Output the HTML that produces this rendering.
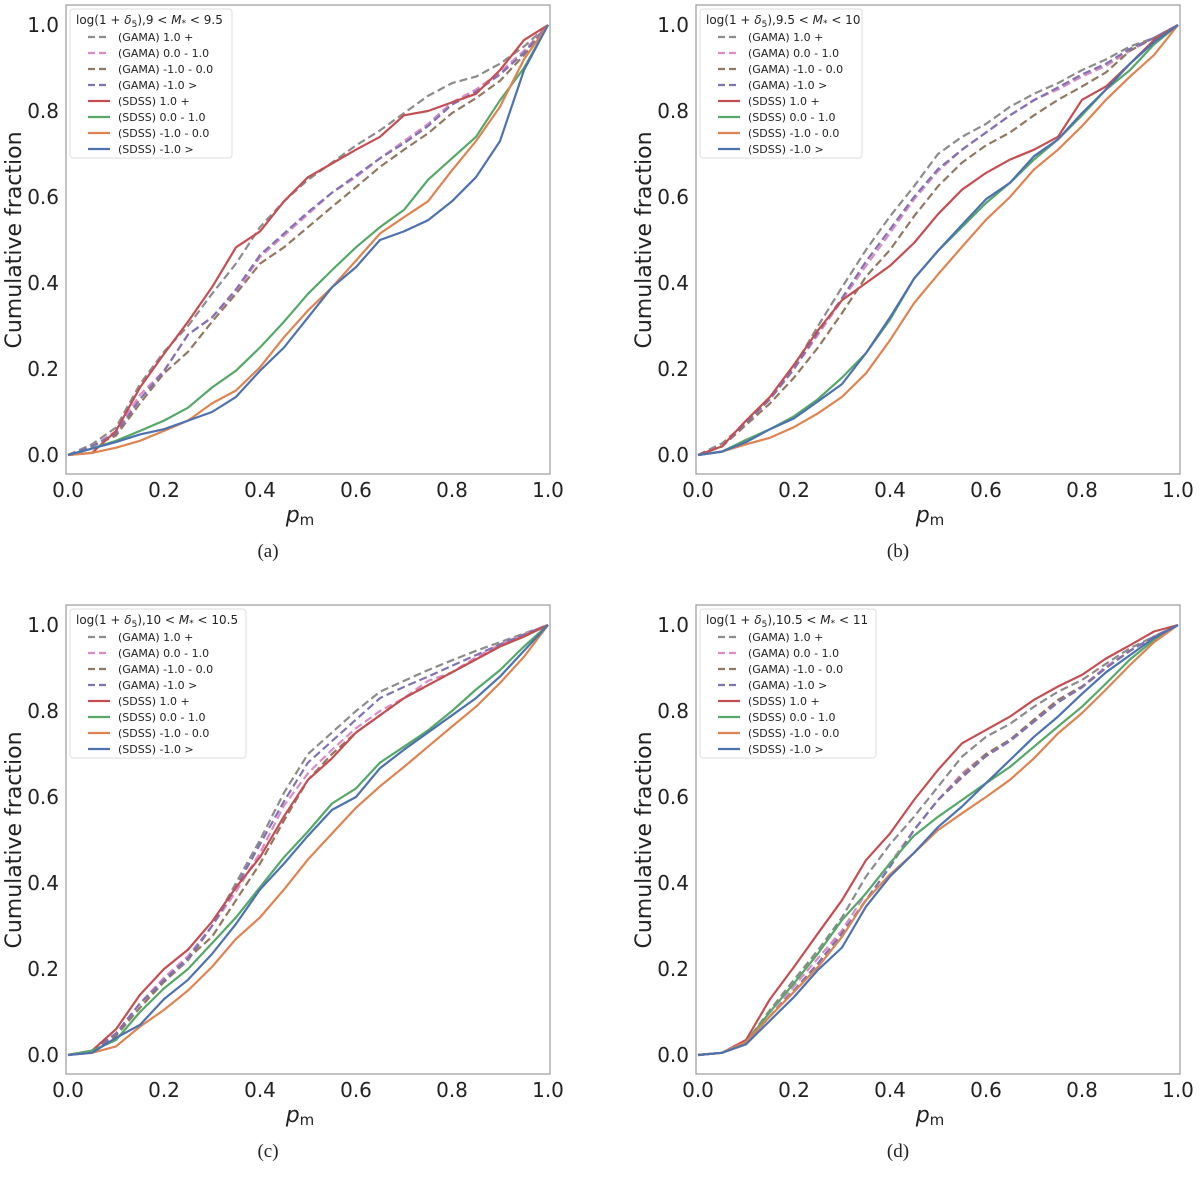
<!DOCTYPE html>
<html><head><meta charset="utf-8"><style>
body{margin:0;background:#fff;}
svg text{font-family:"DejaVu Sans","Liberation Sans",sans-serif;fill:#222;}
</style></head><body>
<svg id="fig" width="1200" height="1173" viewBox="0 0 1200 1173" xmlns="http://www.w3.org/2000/svg"></svg>
<script>
const pGrid=[0,.05,.1,.15,.2,.25,.3,.35,.4,.45,.5,.55,.6,.65,.7,.75,.8,.85,.9,.95,1];
const xTicks=[0,0.2,0.4,0.6,0.8,1.0];
const yTicks=[0,0.2,0.4,0.6,0.8,1.0];
const seriesNames=["(GAMA) 1.0 +","(GAMA) 0.0 - 1.0","(GAMA) -1.0 - 0.0","(GAMA) -1.0 >","(SDSS) 1.0 +","(SDSS) 0.0 - 1.0","(SDSS) -1.0 - 0.0","(SDSS) -1.0 >"];
const panelRanges=[["9","9.5"],["9.5","10"],["10","10.5"],["10.5","11"]];
const captions=["(a)","(b)","(c)","(d)"];
// panel a
const a_gama_hi=[0,.025,.064,.165,.24,.30,.375,.445,.53,.59,.64,.68,.72,.755,.795,.835,.865,.88,.91,.95,1];
const a_gama_mid=[0,.02,.055,.14,.196,.28,.32,.38,.46,.51,.56,.61,.646,.69,.73,.77,.82,.85,.89,.94,1];
const a_gama_lo=[0,.02,.045,.12,.19,.24,.31,.375,.445,.483,.53,.577,.623,.67,.71,.748,.795,.83,.87,.93,1];
const a_gama_vlo=[0,.02,.05,.13,.195,.28,.32,.385,.465,.515,.565,.61,.65,.69,.725,.765,.815,.845,.885,.935,1];
const a_sdss_hi=[0,.005,.056,.157,.235,.31,.39,.483,.52,.59,.646,.678,.71,.74,.79,.80,.82,.84,.895,.965,1];
const a_sdss_mid=[0,.015,.033,.056,.08,.11,.157,.196,.25,.31,.375,.43,.483,.53,.57,.64,.69,.74,.825,.90,1];
const a_sdss_lo=[0,.005,.017,.033,.056,.08,.12,.15,.204,.274,.336,.39,.452,.515,.553,.59,.662,.73,.81,.92,1];
const a_sdss_vlo=[0,.015,.03,.048,.06,.08,.10,.135,.196,.25,.32,.39,.437,.50,.52,.546,.59,.646,.73,.895,1];
// panel b
const b_gama_hi=[0,.027,.075,.13,.205,.30,.39,.477,.555,.625,.70,.74,.77,.81,.84,.865,.895,.92,.95,.97,1];
const b_gama_mid=[0,.02,.075,.13,.20,.28,.36,.44,.516,.594,.66,.71,.75,.79,.826,.85,.88,.905,.94,.97,1];
const b_gama_lo=[0,.02,.07,.12,.18,.25,.33,.415,.477,.555,.625,.68,.72,.75,.79,.826,.857,.89,.94,.97,1];
const b_gama_vlo=[0,.02,.075,.13,.20,.285,.365,.45,.525,.60,.665,.71,.75,.79,.825,.855,.885,.91,.945,.97,1];
const b_sdss_hi=[0,.02,.08,.135,.21,.29,.36,.40,.44,.493,.56,.617,.656,.687,.71,.74,.826,.857,.91,.965,1];
const b_sdss_mid=[0,.008,.035,.06,.09,.13,.18,.237,.315,.41,.475,.53,.586,.633,.687,.734,.79,.85,.895,.955,1];
const b_sdss_lo=[0,.008,.025,.04,.065,.097,.135,.19,.267,.353,.42,.484,.547,.60,.664,.71,.765,.826,.88,.93,1];
const b_sdss_vlo=[0,.008,.03,.06,.085,.125,.165,.237,.32,.41,.475,.535,.595,.633,.695,.734,.795,.85,.91,.96,1];
// panel c
const c_gama_hi=[0,.01,.05,.12,.17,.22,.30,.40,.50,.61,.70,.75,.80,.845,.87,.895,.918,.94,.96,.98,1];
const c_gama_mid=[0,.01,.05,.12,.18,.23,.30,.38,.47,.58,.655,.71,.76,.80,.83,.87,.89,.925,.955,.978,1];
const c_gama_lo=[0,.01,.045,.11,.17,.225,.275,.36,.445,.545,.64,.70,.75,.79,.83,.86,.89,.92,.95,.975,1];
const c_gama_vlo=[0,.01,.05,.12,.175,.225,.30,.39,.49,.59,.68,.73,.78,.83,.856,.88,.905,.93,.955,.978,1];
const c_sdss_hi=[0,.01,.06,.14,.20,.245,.31,.39,.46,.555,.64,.69,.75,.79,.83,.86,.89,.92,.95,.973,1];
const c_sdss_mid=[0,.01,.035,.10,.155,.20,.26,.32,.39,.46,.52,.585,.62,.68,.717,.755,.80,.85,.895,.95,1];
const c_sdss_lo=[0,.005,.02,.066,.105,.15,.205,.27,.32,.385,.455,.515,.575,.625,.67,.717,.764,.81,.865,.926,1];
const c_sdss_vlo=[0,.005,.04,.07,.13,.175,.235,.305,.385,.445,.51,.57,.60,.667,.71,.75,.79,.83,.88,.94,1];
// panel d
const d_gama_hi=[0,.005,.03,.105,.175,.244,.32,.415,.49,.554,.624,.694,.74,.77,.81,.845,.872,.91,.946,.973,1];
const d_gama_mid=[0,.005,.03,.09,.16,.225,.29,.376,.446,.523,.593,.655,.70,.733,.78,.826,.857,.903,.94,.973,1];
const d_gama_lo=[0,.005,.03,.09,.15,.213,.283,.36,.438,.523,.593,.65,.70,.733,.78,.826,.857,.90,.94,.973,1];
const d_gama_vlo=[0,.005,.03,.09,.15,.213,.283,.36,.438,.523,.593,.645,.695,.73,.775,.82,.855,.90,.94,.973,1];
const d_sdss_hi=[0,.005,.035,.13,.205,.283,.36,.453,.515,.593,.663,.725,.756,.787,.826,.857,.884,.922,.953,.985,1];
const d_sdss_mid=[0,.005,.03,.10,.167,.236,.314,.376,.446,.51,.554,.593,.632,.67,.717,.764,.81,.864,.92,.965,1];
const d_sdss_lo=[0,.005,.03,.09,.147,.205,.275,.36,.42,.47,.523,.562,.60,.64,.69,.748,.795,.85,.907,.96,1];
const d_sdss_vlo=[0,.005,.025,.08,.135,.198,.25,.345,.415,.47,.53,.578,.632,.686,.74,.787,.84,.89,.93,.97,1];

const panelData=[
 [a_gama_hi,a_gama_mid,a_gama_lo,a_gama_vlo,a_sdss_hi,a_sdss_mid,a_sdss_lo,a_sdss_vlo],
 [b_gama_hi,b_gama_mid,b_gama_lo,b_gama_vlo,b_sdss_hi,b_sdss_mid,b_sdss_lo,b_sdss_vlo],
 [c_gama_hi,c_gama_mid,c_gama_lo,c_gama_vlo,c_sdss_hi,c_sdss_mid,c_sdss_lo,c_sdss_vlo],
 [d_gama_hi,d_gama_mid,d_gama_lo,d_gama_vlo,d_sdss_hi,d_sdss_mid,d_sdss_lo,d_sdss_vlo]];
const colors=["#8c8c8c","#da8bc3","#937860","#8172b3","#c44e52","#55a868","#dd8452","#4c72b0"];
const dashed=[true,true,true,true,false,false,false,false];
const dataNames=["gama-high","gama-mid","gama-low","gama-very-low","sdss-high","sdss-mid","sdss-low","sdss-very-low"];

const NS="http://www.w3.org/2000/svg";
const svg=document.getElementById('fig');
function mk(tag,attrs,parent){const e=document.createElementNS(NS,tag);for(const k in attrs)e.setAttribute(k,attrs[k]);(parent||svg).appendChild(e);return e;}

const origins=[[0,0],[630,0],[0,600],[630,600]];
origins.forEach((o,pi)=>{
  const ox=o[0], oy=o[1];
  const g=mk('g',{});
  
  
  const X=v=>ox+68+v*480;
  const Y=v=>oy+455-v*430;
  const frame=mk('rect',{x:ox+66,y:oy+5,width:484,height:469,fill:'#fff',stroke:'#999','stroke-width':1.2},g);
  
  
  xTicks.forEach(t=>{
    const tx=mk('text',{x:X(t),y:oy+497,'font-size':20,'text-anchor':'middle'},g);
    tx.textContent=t.toFixed(1);
    
    
  });
  yTicks.forEach(t=>{
    const ty=mk('text',{x:ox+59,y:Y(t)+7,'font-size':20,'text-anchor':'end'},g);
    ty.textContent=t.toFixed(1);
    
    
  });
  const yl=mk('text',{x:0,y:0,'font-size':22,'text-anchor':'middle',transform:`translate(${ox+21},${oy+240}) rotate(-90)`},g);
  yl.textContent='Cumulative fraction';
  
  
  const xl=mk('text',{x:ox+300,y:oy+522,'font-size':22,'text-anchor':'middle'},g);
  xl.innerHTML='<tspan font-style="italic">p</tspan><tspan font-size="15" dy="3">m</tspan>';
  
  
  const cap=mk('text',{x:ox+268,y:oy+557,'font-size':19,'text-anchor':'middle',style:'font-family:"Liberation Serif",serif'},g);
  cap.textContent=captions[pi];
  
  
  panelData[pi].forEach((arr,si)=>{
    const d=arr.map((v,i)=>(i?'L':'M')+X(pGrid[i]).toFixed(1)+' '+Y(v).toFixed(1)).join(' ');
    const p=mk('path',{d:d,fill:'none',stroke:colors[si],'stroke-width':2.2,'stroke-linejoin':'round','stroke-dasharray':dashed[si]?'8,4':'none'},g);
    
    
  });
  const lg=mk('g',{},g);
  
  
  mk('rect',{x:ox+70,y:oy+9,width:pi>=2?176:162,height:149,fill:'#fff','fill-opacity':0.85,stroke:'#ddd',rx:3},lg);
  const lt=mk('text',{x:ox+76,y:oy+24,'font-size':12},lg);
  lt.innerHTML='log(1 + <tspan font-style="italic">δ</tspan><tspan font-size="9" dy="3">5</tspan><tspan dy="-3">),'+panelRanges[pi][0]+' &lt; </tspan><tspan font-style="italic">M</tspan><tspan font-size="9" dy="2">*</tspan><tspan dy="-2"> &lt; '+panelRanges[pi][1]+'</tspan>';
  
  
  seriesNames.forEach((n,si)=>{
    const yy=oy+37+si*16;
    const ln=mk('line',{x1:ox+88,x2:ox+110,y1:yy,y2:yy,stroke:colors[si],'stroke-width':2.2,'stroke-dasharray':dashed[si]?'7,4':'none'},lg);
    
    
    const tt=mk('text',{x:ox+118,y:yy+4,'font-size':11},lg);
    tt.textContent=n;
    
    
  });
});
</script>
</body></html>
